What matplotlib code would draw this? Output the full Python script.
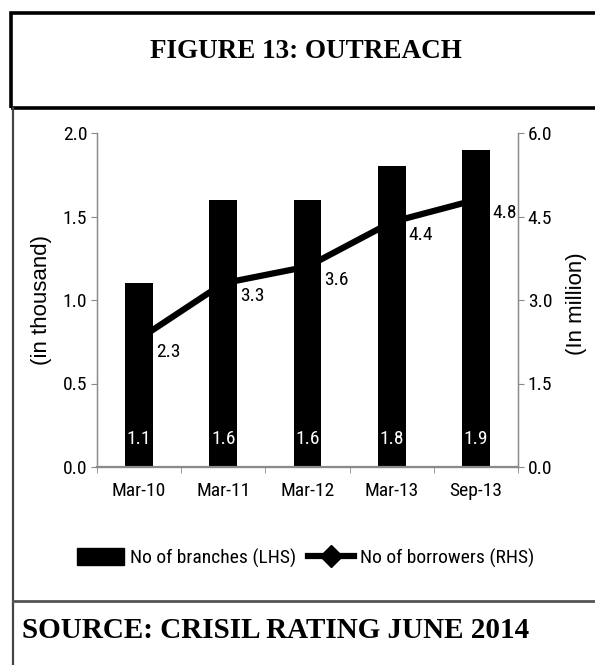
import matplotlib
matplotlib.use("Agg")
import matplotlib.pyplot as plt
from matplotlib import font_manager
from matplotlib.lines import Line2D
from matplotlib.patches import Rectangle
from matplotlib.ticker import FixedLocator
import numpy as np

# Data
categories = ["Mar-10", "Mar-11", "Mar-12", "Mar-13", "Sep-13"]
branches = [1.1, 1.6, 1.6, 1.8, 1.9]          # thousand (LHS)
borrowers = [2.3, 3.3, 3.6, 4.4, 4.8]         # million (RHS)
left_ticks = [0.0, 0.5, 1.0, 1.5, 2.0]
right_ticks = [0.0, 1.5, 3.0, 4.5, 6.0]

# Pick a narrow sans face if one is installed
installed = {f.name for f in font_manager.fontManager.ttflist}
narrow_candidates = ["Liberation Sans Narrow", "Arial Narrow", "Roboto Condensed",
                     "Open Sans Condensed", "DejaVu Sans"]
narrow = [n for n in narrow_candidates if n in installed] or ["DejaVu Sans"]
serif = ["Liberation Serif", "DejaVu Serif"]
sans = ["Liberation Sans", "DejaVu Sans"]
grey = "#8a8a8a"

W, H = 595, 665
fig = plt.figure(figsize=(W / 100, H / 100), dpi=100)

def fx(px):
    return px / W

def fy(py):
    return 1 - py / H

# Frame: title box, chart panel, source panel
fig.add_artist(Rectangle((fx(11), fy(108)), fx(600) - fx(11), fy(13) - fy(108),
                         transform=fig.transFigure, fill=False, lw=2.6, ec="black"))
fig.add_artist(Line2D([fx(13), fx(13)], [fy(108), fy(670)], transform=fig.transFigure,
                      color="#444444", lw=1.6))
fig.add_artist(Line2D([fx(13), fx(600)], [fy(601), fy(601)], transform=fig.transFigure,
                      color="#555555", lw=2.0))

fig.text(fx(306), fy(51), "FIGURE 13: OUTREACH", ha="center", va="center",
         family=serif, weight="bold", fontsize=19.5)
fig.text(fx(22), fy(630), "SOURCE: CRISIL RATING JUNE 2014", ha="left", va="center",
         family=serif, weight="bold", fontsize=21)

tick_kw = dict(family=narrow, stretch="condensed", size=14)

# Chart
ax = fig.add_axes([fx(97), fy(467), fx(518) - fx(97), fy(133) - fy(467)])
x = np.arange(len(categories))
ax.bar(x, branches, width=0.33, color="black", zorder=2)
ax.set_ylim(0, 2.0)
ax.set_xlim(-0.5, len(categories) - 0.5)
ax.set_yticks(left_ticks)
ax.set_yticklabels([f"{v:.1f}" for v in left_ticks], **tick_kw)
ax.set_xticks(x)
ax.set_xticklabels(categories, **tick_kw)
ax.xaxis.set_minor_locator(FixedLocator(np.arange(-0.5, len(categories), 1.0)))
ax.tick_params(axis="x", which="major", length=0, pad=11)
ax.tick_params(axis="x", which="minor", length=4, color=grey, direction="out")
ax.tick_params(axis="y", length=4, color=grey, direction="out", pad=3)
ax.spines["top"].set_visible(False)
for s in ("left", "right", "bottom"):
    ax.spines[s].set_color(grey)
    ax.spines[s].set_linewidth(1.0)
ax.spines["bottom"].set_linewidth(1.6)
ax.set_ylabel("(in thousand)", family=sans, fontsize=16, va="center", ha="center")
ax.yaxis.set_label_coords(-0.131, 0.5)

for xi, v in zip(x, branches):
    ax.text(xi, 0.17, f"{v:.1f}", ha="center", va="center", color="white", **tick_kw)

ax2 = ax.twinx()
ax2.plot(x, borrowers, color="black", lw=4.5, marker="D", ms=7, zorder=1,
         solid_joinstyle="round")
ax2.set_ylim(0, 6.0)
ax2.set_yticks(right_ticks)
ax2.set_yticklabels([f"{v:.1f}" for v in right_ticks], **tick_kw)
ax2.tick_params(axis="y", length=4, color=grey, direction="out", pad=3)
ax2.spines["top"].set_visible(False)
for s in ("left", "right", "bottom"):
    ax2.spines[s].set_color(grey)
ax2.set_ylabel("(In million)", family=sans, fontsize=16, rotation=90,
               va="center", ha="center")
ax2.yaxis.set_label_coords(1.14, 0.49)
ax.set_zorder(ax2.get_zorder() + 1)
ax.patch.set_visible(False)

for xi, v in zip(x, borrowers):
    ax2.annotate(f"{v:.1f}", (xi, v), xytext=(29, -13), textcoords="offset pixels",
                 ha="center", va="center", **tick_kw)

# Legend
handles = [Rectangle((0, 0), 1, 1, color="black"),
           Line2D([], [], color="black", lw=4.5, marker="D", ms=11)]
fig.legend(handles, ["No of branches (LHS)", "No of borrowers (RHS)"],
           loc="center", bbox_to_anchor=(fx(306), fy(558)), ncol=2, frameon=False,
           prop={"family": narrow, "size": 14, "stretch": "condensed"},
           handlelength=2.4, handleheight=0.95, handletextpad=0.3, columnspacing=0.6)

fig.savefig("out.png", dpi=100)
